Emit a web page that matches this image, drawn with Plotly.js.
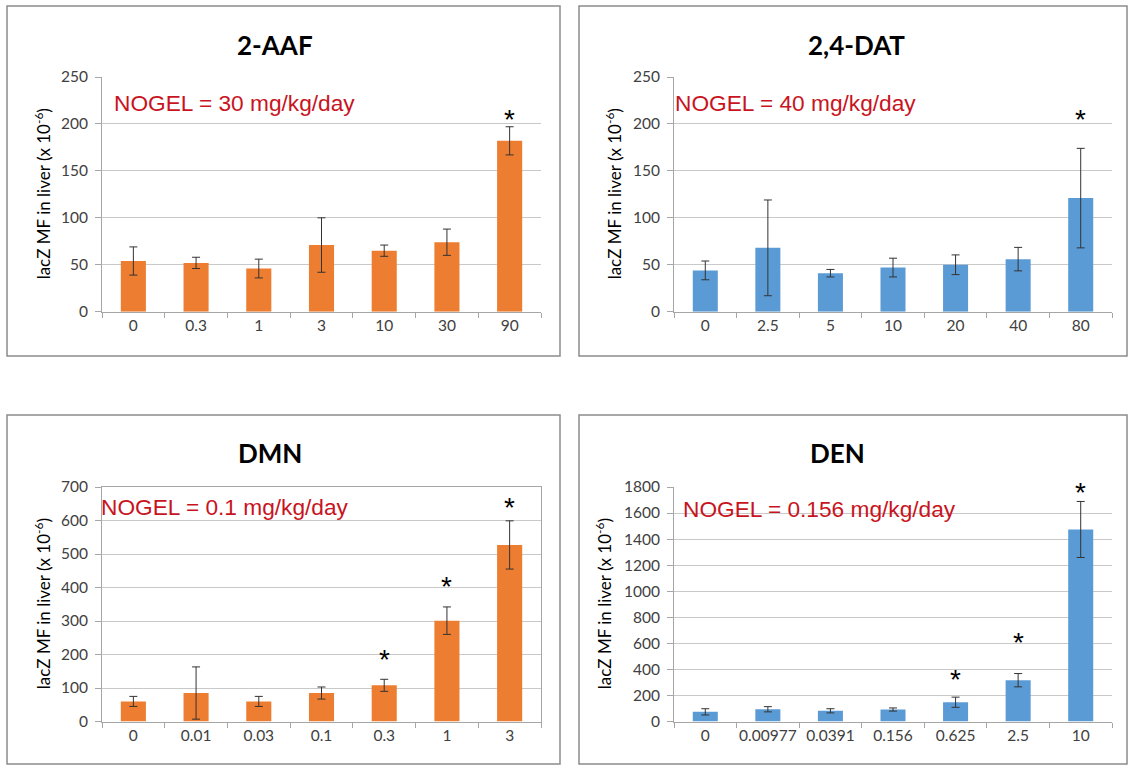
<!DOCTYPE html>
<html>
<head>
<meta charset="utf-8">
<script src="https://cdn.plot.ly/plotly-3.0.1.min.js"></script>
<style>
  html, body { margin: 0; padding: 0; background: #ffffff; }
  #chart { width: 1130px; height: 765px; }
</style>
</head>
<body>
<div id="chart"></div>
<script>
// ---------- data ----------
const aafDoses = ['0', '0.3', '1', '3', '10', '30', '90'];
const aafMF    = [54, 52, 46, 71, 65, 74, 182];
const aafErr   = [15, 6, 10, 29, 6, 14, 15];
const aafStarDoses = ['90'];
const aafStarY     = [211];

const datDoses = ['0', '2.5', '5', '10', '20', '40', '80'];
const datMF    = [44, 68, 41, 47, 50, 56, 121];
const datErr   = [10, 51, 4, 10, 10.5, 12.5, 53];
const datStarDoses = ['80'];
const datStarY     = [211];

const dmnDoses = ['0', '0.01', '0.03', '0.1', '0.3', '1', '3'];
const dmnMF    = [60, 85, 60, 85, 108, 301, 527];
const dmnErr   = [15, 78, 15, 18, 18, 41, 72];
const dmnStarDoses = ['0.3', '1', '3'];
const dmnStarY     = [204, 420, 656];

const denDoses = ['0', '0.00977', '0.0391', '0.156', '0.625', '2.5', '10'];
const denMF    = [74, 94, 82, 92, 148, 317, 1474];
const denErr   = [24, 20, 16, 12, 39, 51, 215];
const denStarDoses = ['0.625', '2.5', '10'];
const denStarY     = [370, 651, 1800];

const panelTitles = ['2-AAF', '2,4-DAT', 'DMN', 'DEN'];
const nogelTexts  = ['NOGEL = 30 mg/kg/day', 'NOGEL = 40 mg/kg/day',
                     'NOGEL = 0.1 mg/kg/day', 'NOGEL = 0.156 mg/kg/day'];
const yTitle = 'lacZ MF in liver (x 10<sup>-6</sup>)';

// ---------- styling / layout ----------
const W = 1130, H = 765;
const px = x => x / W;
const py = y => 1 - y / H;

const ORANGE = '#ED7D31', BLUE = '#5B9BD5';
const RED = '#C8141E';
const TICKFONT = { family: 'Lato, "Open Sans", sans-serif', size: 15.5, color: '#404040' };

const panels = [
  { doses: aafDoses, mf: aafMF, err: aafErr, sd: aafStarDoses, sy: aafStarY, color: ORANGE,
    xd: [102, 541], yd: [77, 311.7], range: [0, 250], dtick: 50,
    box: [7, 6, 560, 356], title: [275, 45], nogel: [112, 103], ytitleX: 42, mirror: false },
  { doses: datDoses, mf: datMF, err: datErr, sd: datStarDoses, sy: datStarY, color: BLUE,
    xd: [674, 1112], yd: [77, 311.7], range: [0, 250], dtick: 50,
    box: [579, 6, 1127, 356], title: [856, 45], nogel: [673, 103], ytitleX: 613, mirror: false },
  { doses: dmnDoses, mf: dmnMF, err: dmnErr, sd: dmnStarDoses, sy: dmnStarY, color: ORANGE,
    xd: [102, 541], yd: [487, 721.5], range: [0, 700], dtick: 100,
    box: [7, 415, 560, 764], title: [270, 453], nogel: [99, 507], ytitleX: 42, mirror: true },
  { doses: denDoses, mf: denMF, err: denErr, sd: denStarDoses, sy: denStarY, color: BLUE,
    xd: [674, 1112], yd: [487, 721.5], range: [0, 1800], dtick: 200,
    box: [579, 415, 1127, 764], title: [837, 453], nogel: [681, 509], ytitleX: 603, mirror: false }
];

const traces = [];
const annotations = [];
const shapes = [];
const layout = {
  width: W, height: H,
  margin: { l: 0, r: 0, t: 0, b: 0 },
  paper_bgcolor: '#ffffff', plot_bgcolor: 'rgba(0,0,0,0)',
  showlegend: false,
  bargap: 0.6
};

panels.forEach((p, i) => {
  const n = i + 1;
  const xa = n === 1 ? 'x' : 'x' + n;
  const ya = n === 1 ? 'y' : 'y' + n;
  const xkey = n === 1 ? 'xaxis' : 'xaxis' + n;
  const ykey = n === 1 ? 'yaxis' : 'yaxis' + n;

  traces.push({
    type: 'bar', x: p.doses, y: p.mf, xaxis: xa, yaxis: ya,
    marker: { color: p.color, line: { width: 0 } },
    error_y: { type: 'data', array: p.err, visible: true, color: '#333333', thickness: 1, width: 4 },
    hoverinfo: 'x+y'
  });

  layout[xkey] = {
    domain: [px(p.xd[0]), px(p.xd[1])],
    anchor: ya, type: 'category', range: [-0.5, 6.5],
    showline: true, linecolor: '#a6a6a6', linewidth: 1,
    ticks: 'outside', tickson: 'boundaries', ticklen: 5, tickcolor: '#a6a6a6',
    tickfont: TICKFONT, tickangle: 0, showgrid: false, zeroline: false, fixedrange: true,
    mirror: p.mirror
  };
  layout[ykey] = {
    domain: [py(p.yd[1]), py(p.yd[0])],
    anchor: xa, range: p.range, dtick: p.dtick, tick0: 0,
    showline: true, linecolor: '#a6a6a6', linewidth: 1,
    ticks: 'outside', ticklen: 6, tickcolor: '#a6a6a6',
    tickfont: TICKFONT, showgrid: true, gridcolor: '#c9c9c9', gridwidth: 1,
    zeroline: false, fixedrange: true, ticklabelstandoff: 4,
    mirror: p.mirror
  };

  // chart-area border
  shapes.push({
    type: 'rect', xref: 'paper', yref: 'paper',
    x0: px(p.box[0]), x1: px(p.box[2]), y0: py(p.box[3]), y1: py(p.box[1]),
    line: { color: '#8c8c8c', width: 1.5 }, fillcolor: 'rgba(0,0,0,0)', layer: 'below'
  });

  // panel title
  annotations.push({
    xref: 'paper', yref: 'paper', x: px(p.title[0]), y: py(p.title[1]),
    xanchor: 'center', yanchor: 'middle', showarrow: false,
    text: '<b>' + panelTitles[i] + '</b>',
    font: { family: 'Lato, "Open Sans", sans-serif', size: 26, color: '#000000' }
  });

  // NOGEL label
  annotations.push({
    xref: 'paper', yref: 'paper', x: px(p.nogel[0]), y: py(p.nogel[1]),
    xanchor: 'left', yanchor: 'middle', showarrow: false,
    text: nogelTexts[i],
    font: { family: '"Liberation Sans", Arial, sans-serif', size: 22.7, color: RED }
  });

  // y-axis title
  annotations.push({
    xref: 'paper', yref: 'paper', x: px(p.ytitleX), y: py((p.yd[0] + p.yd[1]) / 2),
    xanchor: 'center', yanchor: 'middle', showarrow: false, textangle: -90,
    text: yTitle,
    font: { family: 'Lato, "Open Sans", sans-serif', size: 17, color: '#000000' }
  });

  // significance stars (category axis: position by category index)
  p.sd.forEach((d, k) => {
    annotations.push({
      xref: xa, yref: ya, x: p.doses.indexOf(d), y: p.sy[k],
      xanchor: 'center', yanchor: 'middle', showarrow: false, yshift: -6,
      text: '*',
      font: { family: '"Liberation Sans", Arial, sans-serif', size: 28, color: '#000000' }
    });
  });
});

layout.annotations = annotations;
layout.shapes = shapes;

Plotly.newPlot('chart', traces, layout, { displayModeBar: false, staticPlot: true });
</script>
</body>
</html>
